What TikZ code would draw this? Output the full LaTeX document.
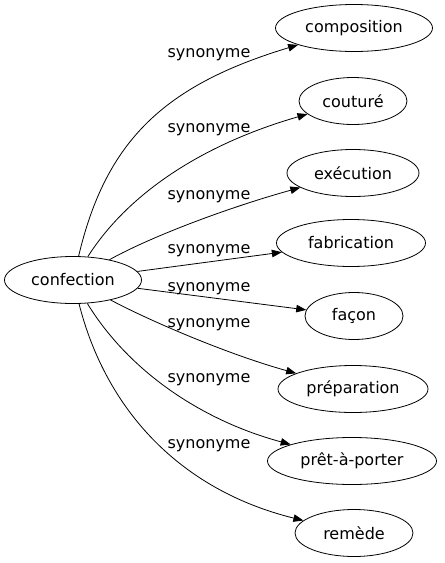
\documentclass[tikz,border=0pt]{standalone}
\usepackage{fontspec}
\setmainfont{DejaVu Sans}
\usetikzlibrary{shapes.geometric,arrows.meta}

\tikzset{
  word/.style={draw,ellipse,line width=0.8pt,minimum height=47pt,inner sep=0pt,font=\fontsize{16}{18}\selectfont},
  rel/.style={font=\fontsize{16}{18}\selectfont,inner sep=0pt},
  edge/.style={line width=0.8pt,-{Triangle[length=10pt,width=7.5pt]}}
}

\begin{document}
\begin{tikzpicture}[x=1pt,y=-1pt]
        \useasboundingbox (0,0) rectangle (445,563);

        %source word
        \node[word,minimum width=137pt] (conf) at (73,280) {confection};

        %synonyms
        \node[word,minimum width=157pt] (comp) at (354,28) {composition};
        \node[word,minimum width=108pt] (cout) at (353,101) {couturé};
        \node[word,minimum width=132pt] (exec) at (353,173) {exécution};
        \node[word,minimum width=149pt] (fabr) at (351,243) {fabrication};
        \node[word,minimum width=98pt] (facon) at (354,316) {façon};
        \node[word,minimum width=150pt] (prep) at (353,389) {préparation};
        \node[word,minimum width=169pt] (pret) at (352,461) {prêt-à-porter};
        \node[word,minimum width=118pt] (rem) at (354,533) {remède};

        %edge labels
        \node[rel] (l1) at (209,55) {synonyme};
        \node[rel] (l2) at (209,130) {synonyme};
        \node[rel] (l3) at (209,197) {synonyme};
        \node[rel] (l4) at (209,251) {synonyme};
        \node[rel] (l5) at (209,289) {synonyme};
        \node[rel] (l6) at (209,325) {synonyme};
        \node[rel] (l7) at (209,380) {synonyme};
        \node[rel] (l8) at (209,446) {synonyme};

        %edges
        \draw[edge] (conf) .. controls (106,140) and (165,85) .. (comp);
        \draw[edge] (conf) .. controls (127,195) and (200,145) .. (cout);
        \draw[edge] (conf) .. controls (152,236) and (230,207) .. (exec);
        \draw[edge] (conf) -- (fabr);
        \draw[edge] (conf) -- (facon);
        \draw[edge] (conf) .. controls (152,322) and (230,355) .. (prep);
        \draw[edge] (conf) .. controls (128,370) and (200,420) .. (pret);
        \draw[edge] (conf) .. controls (106,410) and (180,490) .. (rem);
\end{tikzpicture}
\end{document}
